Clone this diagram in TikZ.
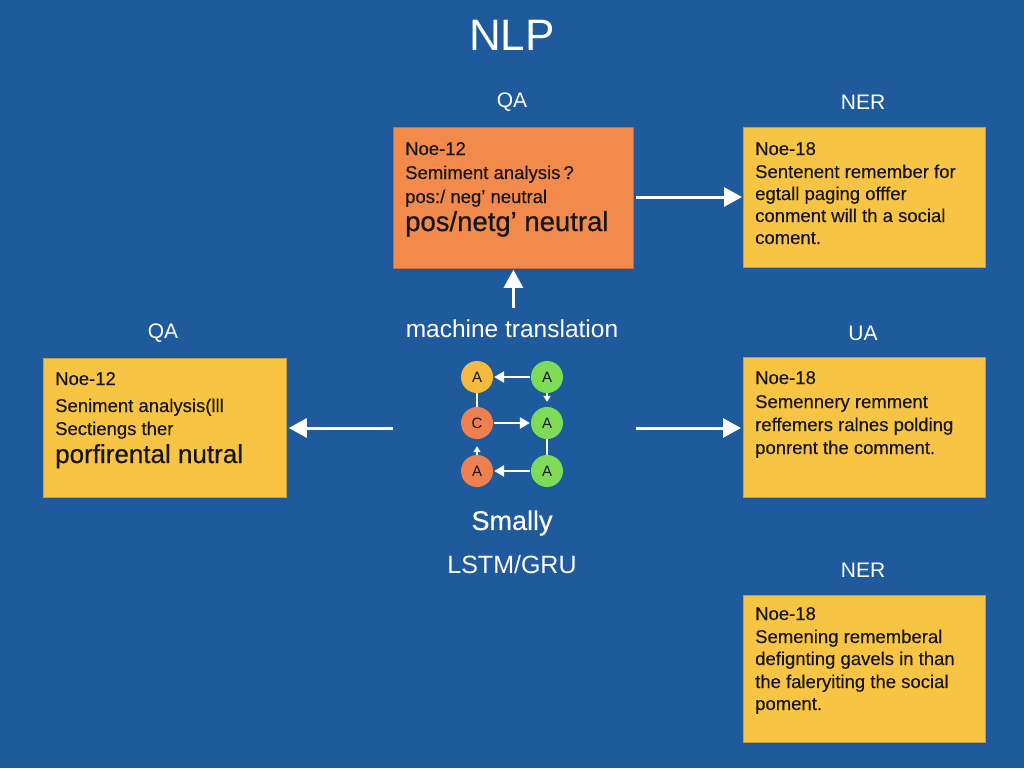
\documentclass[tikz,border=0pt]{standalone}
\usepackage{fontspec}
\setmainfont{Liberation Sans}
\usetikzlibrary{arrows.meta}
\definecolor{bg}{HTML}{1F5B9C}
\definecolor{orangebox}{HTML}{F28A4B}
\definecolor{yellowbox}{HTML}{F8C444}
\definecolor{ink}{HTML}{161616}
\definecolor{cyel}{HTML}{F5B93E}
\definecolor{corg}{HTML}{EE7F4F}
\definecolor{cgrn}{HTML}{7DDB57}
\tikzset{
  boxo/.style={draw=orangebox!80!black, line width=0.8pt, fill=orangebox, minimum width=240pt, minimum height=141pt, anchor=north west, inner sep=0pt},
  boxy/.style={draw=yellowbox!80!black, line width=0.8pt, fill=yellowbox, minimum width=242pt, minimum height=140pt, anchor=north west, inner sep=0pt},
  bodytxt/.style={anchor=base west, inner sep=0pt, text=ink, font=\fontsize{18.5}{22}\selectfont\addfontfeature{FakeBold=0.3}},
  bigtxt/.style={anchor=base west, inner sep=0pt, text=ink, font=\fontsize{26}{30}\selectfont\addfontfeature{FakeBold=0.6}},
  lbl/.style={text=white, inner sep=0pt, font=\fontsize{21}{25}\selectfont},
  circ/.style={circle, draw=none, minimum size=32pt, inner sep=0pt, font=\fontsize{15}{17}\selectfont, text=ink},
  warrow/.style={draw=white, line width=3pt, -{Triangle[length=18pt, width=19pt]}},
  sarrow/.style={draw=white, line width=2.2pt, -{Triangle[length=10pt, width=11pt]}},
  tarrow/.style={draw=white, line width=1.8pt, -{Triangle[length=6pt, width=7pt]}},
  sline/.style={draw=white, line width=2.2pt}
}
\begin{document}
\begin{tikzpicture}[x=1pt,y=-1pt]
\fill[bg] (0,0) rectangle (1024,768);
\useasboundingbox (0,0) rectangle (1024,768);

% title
\node[text=white, font=\fontsize{44}{50}\selectfont] (title) at (512,35) {NLP};

% labels
\node[lbl] (lqa1) at (512,102) {QA};
\node[lbl] (lner1) at (863,102) {NER};
\node[lbl] (lqa2) at (163,333) {QA};
\node[lbl] (lua) at (863,333) {UA};
\node[lbl] (lner2) at (863,570) {NER};

% boxes
\node[boxo] (bqa1) at (393,127) {};
\node[boxy] (bner1) at (743,127) {};
\node[boxy, minimum width=243pt, minimum height=139pt] (bqa2) at (43,358) {};
\node[boxy] (bua) at (743,357) {};
\node[boxy, minimum height=147pt] (bner2) at (743,595) {};

% orange box text
\node[bodytxt] (o1) at (405,155) {Noe-12};
\node[bodytxt] (o2) at (405,179) {Semiment analysis\,?};
\node[bodytxt] (o3) at (405,203) {pos:/ neg' neutral};
\node[bigtxt, font=\fontsize{27.5}{31}\selectfont\addfontfeature{FakeBold=0.6}] (o4) at (405,231) {pos/netg' neutral};

% top right text
\node[bodytxt] (r1) at (755,155) {Noe-18};
\node[bodytxt] (r2) at (755,178) {Sentenent remember for};
\node[bodytxt] (r3) at (755,200) {egtall paging offfer};
\node[bodytxt] (r4) at (755,222) {conment will th a social};
\node[bodytxt] (r5) at (755,244) {coment.};

% left box text
\node[bodytxt] (l1) at (55,385) {Noe-12};
\node[bodytxt] (l2) at (55,412) {Seniment analysis(lll};
\node[bodytxt] (l3) at (55,435) {Sectiengs ther};
\node[bigtxt] (l4) at (55,463) {porfirental nutral};

% right middle text
\node[bodytxt] (m1) at (755,384) {Noe-18};
\node[bodytxt] (m2) at (755,408) {Semennery remment};
\node[bodytxt] (m3) at (755,431) {reffemers ralnes polding};
\node[bodytxt] (m4) at (755,454) {ponrent the comment.};

% bottom right text
\node[bodytxt] (n1) at (755,620) {Noe-18};
\node[bodytxt] (n2) at (755,643) {Semening rememberal};
\node[bodytxt] (n3) at (755,665) {defignting gavels in than};
\node[bodytxt] (n4) at (755,688) {the faleryiting the social};
\node[bodytxt] (n5) at (755,710) {poment.};

% centre labels
\node[text=white, inner sep=0pt, font=\fontsize{24.5}{28}\selectfont] (mt) at (512,329) {machine translation};
\node[text=white, inner sep=0pt, font=\fontsize{27}{32}\selectfont\addfontfeature{FakeBold=0.4}] (sm) at (512,523) {Smally};
\node[text=white, inner sep=0pt, font=\fontsize{25}{30}\selectfont] (lstm) at (512,565) {LSTM/GRU};

% graph circles
\node[circ, fill=cyel] (c11) at (477,377) {A};
\node[circ, fill=cgrn] (c12) at (547,377) {A};
\node[circ, fill=corg] (c21) at (477,423) {C};
\node[circ, fill=cgrn] (c22) at (547,423) {A};
\node[circ, fill=corg] (c31) at (477,471) {A};
\node[circ, fill=cgrn] (c32) at (547,471) {A};

\draw[sarrow, shorten >=1pt, shorten <=1pt] (c12) -- (c11);
\draw[tarrow, shorten >=5pt] (c12) -- (c22);
\draw[sline] (c11) -- (c21);
\draw[sarrow, shorten >=1pt, shorten <=1pt] (c21) -- (c22);
\draw[sline] (c22) -- (c32);
\draw[sarrow, shorten >=1pt, shorten <=1pt] (c32) -- (c31);
\draw[tarrow, shorten >=7pt] (c31) -- (c21);

% main arrows
\coordinate (lstart) at (393,428);
\coordinate (rstart) at (636,428);
\draw[warrow, shorten <=2pt, shorten >=1pt] (bqa1.east |- 0,197) -- (bner1.west |- 0,197);
\draw[warrow, shorten <=12pt, shorten >=1pt] (bqa1.south |- mt.north) -- (bqa1.south);
\draw[warrow, shorten >=2pt] (lstart) -- (bqa2.east |- lstart);
\draw[warrow, shorten >=2pt] (rstart) -- (bua.west |- rstart);
\end{tikzpicture}
\end{document}
